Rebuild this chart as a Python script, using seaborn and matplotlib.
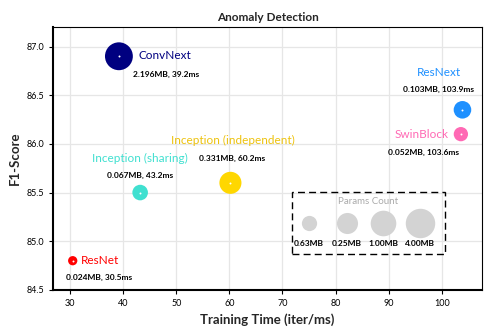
import numpy as np
import pandas as pd
import seaborn as sns
import matplotlib.pyplot as plt
from matplotlib.patches import Rectangle

# ---- data ----
models = ["ConvNext", "ResNext", "SwinBlock", "Inception (sharing)",
          "Inception (independent)", "ResNet"]
train_time = [39.2, 103.9, 103.6, 43.2, 60.2, 30.5]
f1_score = [86.9, 86.35, 86.1, 85.5, 85.6, 84.8]
params_mb = [2.196, 0.103, 0.052, 0.067, 0.331, 0.024]
colors = ["#000080", "#1E90FF", "#FF69B4", "#40E0D0", "#FFD700", "#FF0000"]
label_colors = ["#000080", "#1E90FF", "#FF69B4", "#40E0D0", "#EDC20C", "#FF0000"]
legend_params = [0.0625, 0.25, 1.0, 4.0]
legend_labels = ["0.63MB", "0.25MB", "1.00MB", "4.00MB"]
x_ticks = [30, 40, 50, 60, 70, 80, 90, 100]
y_ticks = [84.5, 85.0, 85.5, 86.0, 86.5, 87.0]

# ---- layout (pixel offsets of labels) ----
name_off = [(20, 1, "left"), (-24, 37, "center"), (-12, 0, "right"),
            (0, 34, "center"), (2, 42, "center"), (8, 0, "left")]
sub_off = [(14, -18, "left"), (-24, 20, "center"), (-37, -18, "center"),
           (0, 17, "center"), (2, 24, "center"), (26, -17, "center")]

sns.set_theme(style="white")
plt.rcParams["font.family"] = ["Lato", "DejaVu Sans"]

def size_of(p):
    # marker area (pt^2) grows with log of parameter count
    r2 = 164 + 88 * np.log10(p)
    return (2 * 0.72) ** 2 * r2

df = pd.DataFrame({"model": models, "time": train_time, "f1": f1_score,
                   "params": params_mb})
df["s"] = [size_of(p) for p in params_mb]

fig = plt.figure(figsize=(4.96, 3.34), dpi=100)
ax = fig.add_axes([0.107, 0.132, 0.865, 0.787])

sns.scatterplot(data=df, x="time", y="f1", hue="model", palette=dict(zip(models, colors)),
                size="model", sizes=dict(zip(models, df["s"])), legend=False,
                linewidth=0, ax=ax, zorder=3)
ax.scatter(df["time"], df["f1"], s=2, color="white", zorder=4, linewidths=0)

for i, m in enumerate(models):
    dx, dy, ha = name_off[i]
    ax.annotate(m, (train_time[i], f1_score[i]), xytext=(dx, dy),
                textcoords="offset pixels", ha=ha, va="center",
                fontsize=8.5, color=label_colors[i])
    dx, dy, ha = sub_off[i]
    ax.annotate(f"{params_mb[i]:.3f}MB, {train_time[i]}ms", (train_time[i], f1_score[i]),
                xytext=(dx, dy), textcoords="offset pixels", ha=ha, va="center",
                fontsize=6, color="black", fontweight="bold")

# size legend box
box = Rectangle((0.557, 0.137), 0.357, 0.237, transform=ax.transAxes, fill=False,
                edgecolor="black", linestyle=(0, (5, 3)), linewidth=1.0, zorder=5)
ax.add_patch(box)
ax.text(0.735, 0.335, "Params Count", transform=ax.transAxes, ha="center", va="center",
        fontsize=7, color="#aaaaaa")
lx = [0.596, 0.684, 0.770, 0.856]
for xx, p, lab in zip(lx, legend_params, legend_labels):
    ax.scatter([xx], [0.255], s=size_of(p), color="#d3d3d3", linewidths=0,
               transform=ax.transAxes, zorder=5)
    ax.text(xx, 0.175, lab, transform=ax.transAxes, ha="center", va="center",
            fontsize=6, color="black", fontweight="bold")

ax.set_xlim(26.8, 107.6)
ax.set_ylim(84.5, 87.2)
ax.set_xticks(x_ticks)
ax.set_yticks(y_ticks)
ax.set_yticklabels([f"{v:.1f}" for v in y_ticks])
ax.tick_params(axis="both", labelsize=6.5, length=3, width=0.8, direction="out",
               left=True, bottom=True, colors="black")
ax.grid(True, color="#e6e6e6", linewidth=0.9)
ax.set_axisbelow(True)
for name, sp in ax.spines.items():
    sp.set_color("black")
    sp.set_linewidth(1.5 if name in ("left", "bottom") else 0.8)
ax.set_xlabel("Training Time (iter/ms)", fontsize=9.5, fontweight="bold")
ax.set_ylabel("F1-Score", fontsize=9.5, fontweight="bold")
ax.set_title("Anomaly Detection", fontsize=8.5, fontweight="bold", pad=4)

fig.savefig("out.png", dpi=100)
